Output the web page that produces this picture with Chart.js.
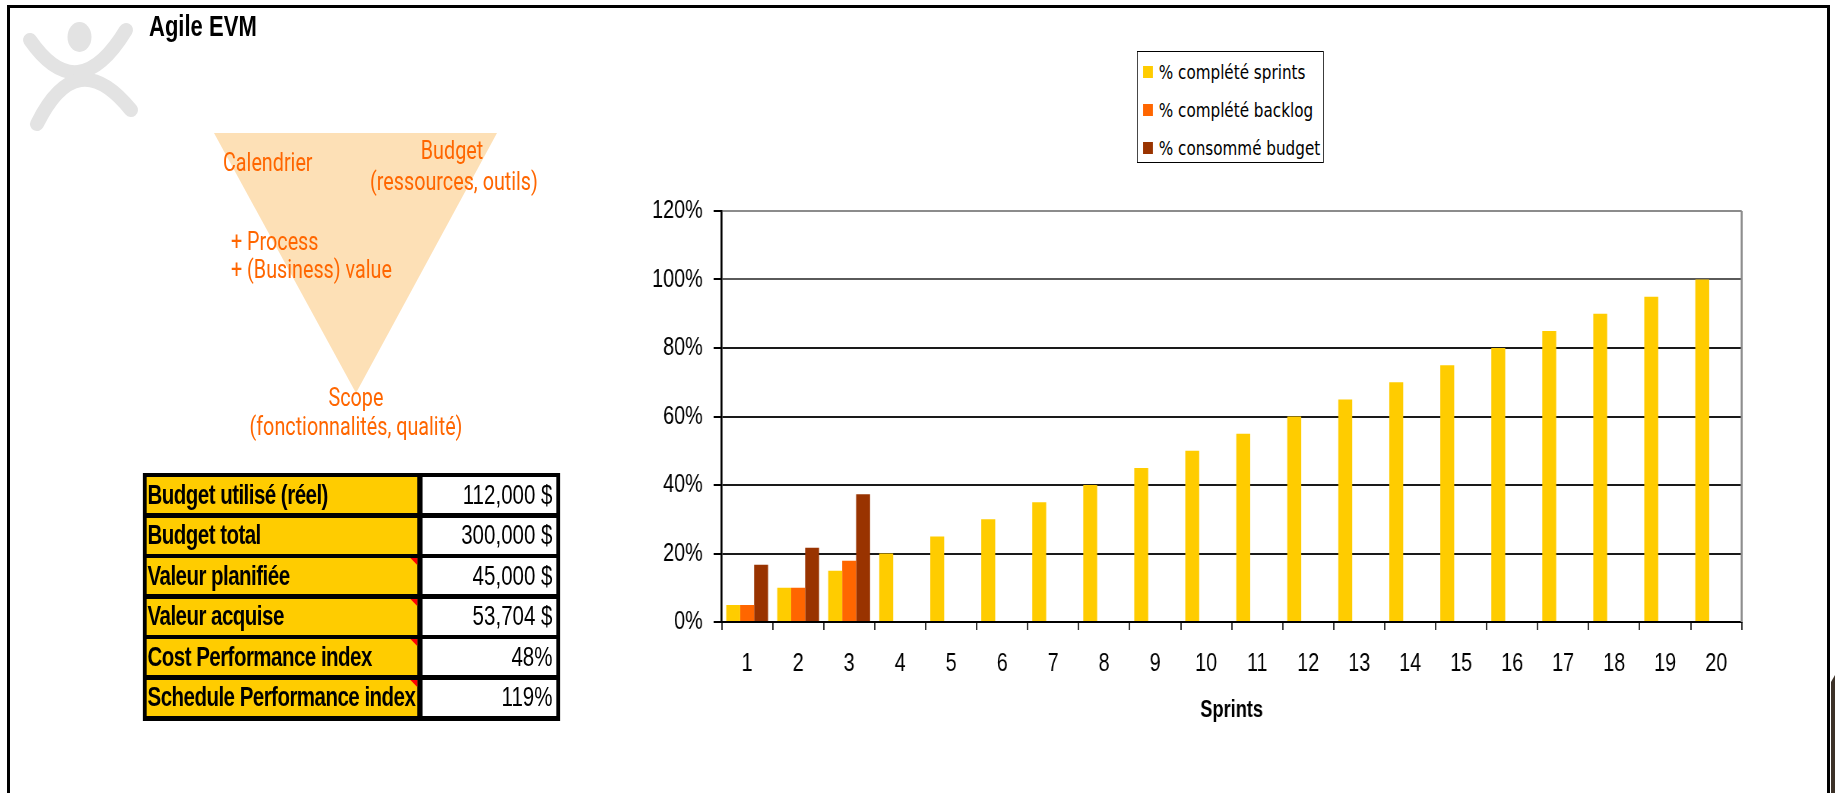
<!DOCTYPE html>
<html lang="fr">
<head>
<meta charset="utf-8">
<title>Agile EVM</title>
<script src="https://cdn.jsdelivr.net/npm/chart.js@4.4.1/dist/chart.umd.min.js"></script>
<style>
  html, body { margin: 0; padding: 0; background: #fff; }
  body { width: 1835px; height: 793px; position: relative; overflow: hidden;
         font-family: 'Liberation Sans', Arial, sans-serif; }
  #deco { position: absolute; left: 0; top: 0; }
  #stage { position: absolute; left: 0; top: 0; height: 793px; transform-origin: 0 0; }
  #stage > * { position: absolute; }
  #legend { box-sizing: border-box; border: 1px solid #000; background: #fff;
            font-family: 'DejaVu Sans', Verdana, sans-serif; font-size: 20px; color: #000; }
  #legend .item { display: flex; align-items: center; height: 38px; white-space: nowrap; }
  #legend .swatch { height: 12px; flex: none; }
  #metrics { display: grid; background: #000; box-sizing: border-box; }
  #metrics .cell { display: flex; align-items: center; font-size: 27px; line-height: 1;
                   color: #000; white-space: nowrap; position: relative; overflow: visible; }
  #metrics .lbl { background: #ffcc00; font-weight: bold; letter-spacing: -0.7px; }
  #metrics .val { background: #fff; justify-content: flex-end; }
  #metrics .note::after { content: ''; position: absolute; right: 0; top: 0;
                          border-top: 7px solid #ff0000; border-left: 9px solid transparent; }
</style>
</head>
<body>
<svg id="deco" width="1835" height="793" viewBox="0 0 1835 793">
  <!-- frame -->
  <rect x="7" y="5" width="1823" height="3" fill="#000"/>
  <rect x="7" y="5" width="3" height="788" fill="#000"/>
  <rect x="1827" y="5" width="3" height="788" fill="#000"/>
  <path d="M1831 682 L1835 675 L1835 793 L1831 793 Z" fill="#3b3128"/>
  <!-- logo -->
  <g fill="none" stroke="#e3e3e3" stroke-width="14" stroke-linecap="round">
    <path d="M30 40 Q78 109 126 30"/>
    <path d="M37 124 Q77 43 131 110"/>
  </g>
  <ellipse cx="79.5" cy="37" rx="12" ry="15" fill="#e3e3e3"/>
  <!-- scope / schedule / budget triangle -->
  <polygon points="214,133 497,133 356,393" fill="#fde0b6"/>
</svg>

<div id="stage">
  <svg id="labels"></svg>
  <div id="metrics"></div>
  <canvas id="evmChart"></canvas>
  <div id="legend"></div>
</div>

<script>
// the stage is squeezed horizontally, so x values are given in page pixels and converted
const S = 0.76;
const px = v => v / S;

// chart data
const sprints = ['1', '2', '3', '4', '5', '6', '7', '8', '9', '10',
                 '11', '12', '13', '14', '15', '16', '17', '18', '19', '20'];
const pctSprints = [5, 10, 15, 20, 25, 30, 35, 40, 45, 50,
                    55, 60, 65, 70, 75, 80, 85, 90, 95, 100];
const pctBacklog = [5, 10, 17.9, null, null, null, null, null, null, null,
                    null, null, null, null, null, null, null, null, null, null];
const pctBudget = [16.7, 21.7, 37.3, null, null, null, null, null, null, null,
                   null, null, null, null, null, null, null, null, null, null];
const yTicks = [0, 20, 40, 60, 80, 100, 120];

// summary table
const metricLabels = ['Budget utilisé (réel)', 'Budget total', 'Valeur planifiée',
                      'Valeur acquise', 'Cost Performance index', 'Schedule Performance index'];
const actualCost = 112000;
const budgetTotal = 300000;
const plannedValue = 45000;
const earnedValue = 53704;

const money = v => v.toLocaleString('en-US') + ' $';
const pct = v => Math.round(v * 100) + '%';
const metricValues = [
  money(actualCost),
  money(budgetTotal),
  money(plannedValue),
  money(earnedValue),
  pct(earnedValue / actualCost),
  pct(earnedValue / plannedValue)
];

const stage = document.getElementById('stage');
stage.style.width = px(1835) + 'px';
stage.style.transform = 'scaleX(' + S + ')';

function place(el, x, y, w, h) {
  el.style.left = px(x) + 'px';
  el.style.top = y + 'px';
  el.style.width = px(w) + 'px';
  el.style.height = h + 'px';
}

// title and triangle captions
const svgNS = 'http://www.w3.org/2000/svg';
const labels = document.getElementById('labels');
place(labels, 0, 0, 1835, 793);
labels.setAttribute('width', px(1835));
labels.setAttribute('height', 793);
function addText(str, x, y, anchor, size, color, weight, family) {
  const t = document.createElementNS(svgNS, 'text');
  t.setAttribute('x', px(x));
  t.setAttribute('y', y);
  t.setAttribute('text-anchor', anchor);
  t.setAttribute('font-size', size);
  t.setAttribute('fill', color);
  t.setAttribute('font-weight', weight);
  t.setAttribute('font-family', family);
  t.textContent = str;
  labels.appendChild(t);
}
addText('Agile EVM', 149, 36, 'start', 29, '#000', 'bold', "'Liberation Sans', Arial");
const orange = '#ff6600';
const capFont = "Roboto, 'Open Sans', sans-serif";
addText('Calendrier', 223, 171, 'start', 26, orange, 'normal', capFont);
addText('Budget', 452, 159, 'middle', 26, orange, 'normal', capFont);
addText('(ressources, outils)', 454, 190, 'middle', 26, orange, 'normal', capFont);
addText('+ Process', 231, 250, 'start', 26, orange, 'normal', capFont);
addText('+ (Business) value', 231, 278, 'start', 26, orange, 'normal', capFont);
addText('Scope', 356, 406, 'middle', 26, orange, 'normal', capFont);
addText('(fonctionnalités, qualité)', 356, 435, 'middle', 26, orange, 'normal', capFont);

// metrics table
const metrics = document.getElementById('metrics');
place(metrics, 143, 473, 417, 248);
metrics.style.padding = '4px ' + px(3.5) + 'px 5px';
metrics.style.gridTemplateColumns = px(271) + 'px ' + px(134) + 'px';
metrics.style.gridAutoRows = '36px';
metrics.style.columnGap = px(5) + 'px';
metrics.style.rowGap = '4.6px';
metricLabels.forEach((label, i) => {
  const l = document.createElement('div');
  l.className = 'cell lbl' + (i >= 2 ? ' note' : '');
  l.style.paddingLeft = px(1) + 'px';
  l.textContent = label;
  const v = document.createElement('div');
  v.className = 'cell val';
  v.style.paddingRight = px(4) + 'px';
  v.textContent = metricValues[i];
  metrics.appendChild(l);
  metrics.appendChild(v);
});

// chart canvas
const canvas = document.getElementById('evmChart');
place(canvas, 600, 180, 1200, 560);
canvas.width = Math.round(px(1200));
canvas.height = 560;

Chart.defaults.font.family = "'Liberation Sans', Arial, sans-serif";
Chart.defaults.color = '#000';

const plotFrame = {
  id: 'plotFrame',
  beforeDatasetsDraw(chart) {
    const { ctx, chartArea: a } = chart;
    ctx.save();
    ctx.strokeStyle = '#8c8c8c';
    ctx.lineWidth = px(2);
    ctx.beginPath();
    ctx.moveTo(a.right, a.top);
    ctx.lineTo(a.right, a.bottom);
    ctx.stroke();
    ctx.restore();
  }
};

const chart = new Chart(canvas.getContext('2d'), {
  type: 'bar',
  data: {
    labels: sprints,
    datasets: [
      { label: '% complété sprints', data: pctSprints, backgroundColor: '#ffcc00' },
      { label: '% complété backlog', data: pctBacklog, backgroundColor: '#ff6600' },
      { label: '% consommé budget', data: pctBudget, backgroundColor: '#993300' }
    ]
  },
  options: {
    responsive: false,
    animation: false,
    devicePixelRatio: 1,
    layout: { padding: { left: 0, right: px(58), top: 31, bottom: 0 } },
    datasets: { bar: { categoryPercentage: 0.82, barPercentage: 1.0, borderWidth: 0 } },
    plugins: { legend: { display: false }, tooltip: { enabled: false } },
    scales: {
      x: {
        offset: true,
        afterFit: scale => { scale.height = 118; },
        grid: { offset: true, drawOnChartArea: false, drawTicks: true, tickLength: 8,
                color: '#333', lineWidth: px(1.5) },
        border: { color: '#000', width: 2 },
        ticks: { font: { size: 26 }, padding: 18, autoSkip: false, maxRotation: 0 },
        title: { display: true, text: 'Sprints', font: { size: 24, weight: 'bold' },
                 padding: { top: 0, bottom: 15 } }
      },
      y: {
        min: yTicks[0],
        max: yTicks[yTicks.length - 1],
        afterFit: scale => { scale.width = px(122); },
        afterBuildTicks: scale => { scale.ticks = yTicks.map(v => ({ value: v })); },
        grid: {
          color: c => c.tick.value === 120 ? '#8c8c8c' : (c.tick.value === 100 ? '#5a5a5a' : '#1a1a1a'),
          lineWidth: 2,
          tickLength: px(8),
          tickColor: '#000'
        },
        border: { color: '#000', width: px(2) },
        ticks: { font: { size: 26 }, padding: px(11), callback: v => v + '%' }
      }
    }
  },
  plugins: [plotFrame]
});

// boxed legend above the plot
const legend = document.getElementById('legend');
place(legend, 1137, 51, 187, 112);
legend.style.paddingTop = '1px';
chart.data.datasets.forEach(ds => {
  const item = document.createElement('div');
  item.className = 'item';
  const sw = document.createElement('span');
  sw.className = 'swatch';
  sw.style.width = px(10) + 'px';
  sw.style.marginLeft = px(5) + 'px';
  sw.style.marginRight = px(6) + 'px';
  sw.style.background = ds.backgroundColor;
  const txt = document.createElement('span');
  txt.textContent = ds.label;
  item.appendChild(sw);
  item.appendChild(txt);
  legend.appendChild(item);
});
</script>
</body>
</html>
